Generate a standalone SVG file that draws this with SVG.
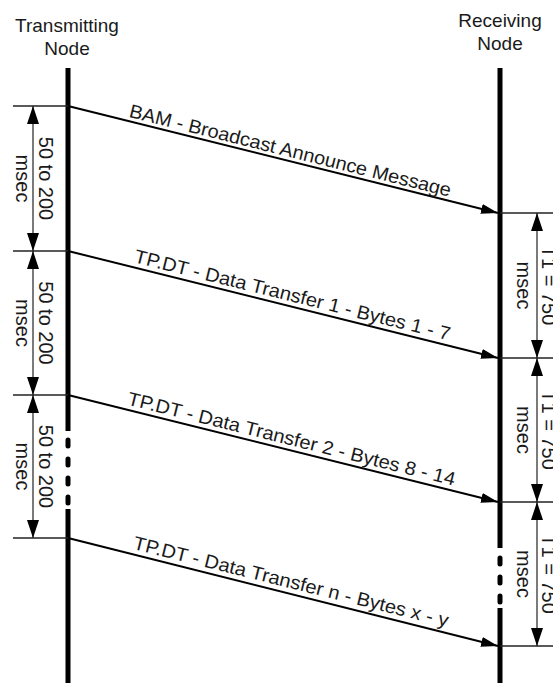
<svg xmlns="http://www.w3.org/2000/svg" width="553" height="683" viewBox="0 0 553 683">
  <style>
    text { font-family: "Liberation Sans", Arial, sans-serif; fill: #1a1a1a; }
    .hdr { font-size: 19px; text-anchor: middle; }
    .msg { font-size: 19px; }
    .dim { font-size: 20px; text-anchor: middle; }
    .life { stroke: #000; stroke-width: 5; fill: none; }
    .dash { stroke: #000; stroke-width: 5; fill: none; stroke-dasharray: 6 13; stroke-linecap: round; }
    .tick { stroke: #222; stroke-width: 1.6; fill: none; }
    .arrow { stroke: #000; stroke-width: 2; fill: none; marker-end: url(#msgHead); }
    .dimline { stroke: #222; stroke-width: 1.2; fill: none; marker-start: url(#dimHead); marker-end: url(#dimHead); }
  </style>
  <defs>
    <marker id="msgHead" markerUnits="userSpaceOnUse" markerWidth="18" markerHeight="12" refX="17" refY="5" orient="auto">
      <path d="M0,0 L17,5 L0,10 Z" fill="#000"/>
    </marker>
    <marker id="dimHead" markerUnits="userSpaceOnUse" markerWidth="19" markerHeight="13" refX="18" refY="6" orient="auto-start-reverse">
      <path d="M0,0 L18,6 L0,12 Z" fill="#000"/>
    </marker>
  </defs>
  <rect width="553" height="683" fill="#fff"/>

  <g id="transmitting-node">
    <text class="hdr" x="67" y="32">Transmitting</text>
    <text class="hdr" x="67" y="55">Node</text>
    <line class="life" x1="68" y1="68" x2="68" y2="431"/>
    <line class="dash" x1="68" y1="440" x2="68" y2="504"/>
    <line class="life" x1="68" y1="509" x2="68" y2="683"/>
  </g>

  <g id="receiving-node">
    <text class="hdr" x="500" y="27">Receiving</text>
    <text class="hdr" x="500" y="50">Node</text>
    <line class="life" x1="500" y1="68" x2="500" y2="548"/>
    <line class="dash" x1="500" y1="558" x2="500" y2="602"/>
    <line class="life" x1="500" y1="608" x2="500" y2="683"/>
  </g>

  <g id="timing-transmit">
    <line class="tick" x1="13" y1="106" x2="68" y2="106"/>
    <line class="tick" x1="13" y1="251" x2="68" y2="251"/>
    <line class="tick" x1="13" y1="395" x2="68" y2="395"/>
    <line class="tick" x1="13" y1="538" x2="68" y2="538"/>
    <line class="dimline" x1="33" y1="106" x2="33" y2="251"/>
    <line class="dimline" x1="33" y1="251" x2="33" y2="395"/>
    <line class="dimline" x1="33" y1="395" x2="33" y2="538"/>
    <text class="dim" transform="translate(39,178.5) rotate(90)">50 to 200</text>
    <text class="dim" transform="translate(16,178.5) rotate(90)">msec</text>
    <text class="dim" transform="translate(39,323) rotate(90)">50 to 200</text>
    <text class="dim" transform="translate(16,323) rotate(90)">msec</text>
    <text class="dim" transform="translate(39,466.5) rotate(90)">50 to 200</text>
    <text class="dim" transform="translate(16,466.5) rotate(90)">msec</text>
  </g>

  <g id="timing-receive">
    <line class="tick" x1="500" y1="213" x2="553" y2="213"/>
    <line class="tick" x1="500" y1="358" x2="553" y2="358"/>
    <line class="tick" x1="500" y1="502" x2="553" y2="502"/>
    <line class="tick" x1="500" y1="646" x2="553" y2="646"/>
    <line class="dimline" x1="537" y1="213" x2="537" y2="358"/>
    <line class="dimline" x1="537" y1="358" x2="537" y2="502"/>
    <line class="dimline" x1="537" y1="502" x2="537" y2="646"/>
    <text class="dim" transform="translate(542,285.5) rotate(90)">T1 = 750</text>
    <text class="dim" transform="translate(517,285.5) rotate(90)">msec</text>
    <text class="dim" transform="translate(542,430) rotate(90)">T1 = 750</text>
    <text class="dim" transform="translate(517,430) rotate(90)">msec</text>
    <text class="dim" transform="translate(542,574) rotate(90)">T1 = 750</text>
    <text class="dim" transform="translate(517,574) rotate(90)">msec</text>
  </g>

  <g id="connectors">
    <g id="msg-bam">
      <line class="arrow" x1="68" y1="106" x2="498" y2="213"/>
      <text class="msg" transform="translate(68,106) rotate(13.97)" x="61" y="-4" textLength="331" lengthAdjust="spacingAndGlyphs">BAM - Broadcast Announce Message</text>
    </g>
    <g id="msg-dt1">
      <line class="arrow" x1="68" y1="251" x2="498" y2="358"/>
      <text class="msg" transform="translate(68,251) rotate(13.97)" x="66" y="-5" textLength="325" lengthAdjust="spacingAndGlyphs">TP.DT - Data Transfer 1 - Bytes 1 - 7</text>
    </g>
    <g id="msg-dt2">
      <line class="arrow" x1="68" y1="395" x2="498" y2="502"/>
      <text class="msg" transform="translate(68,395) rotate(13.97)" x="59" y="-5" textLength="337" lengthAdjust="spacingAndGlyphs">TP.DT - Data Transfer 2 - Bytes 8 - 14</text>
    </g>
    <g id="msg-dtn">
      <line class="arrow" x1="68" y1="538" x2="498" y2="646"/>
      <text class="msg" transform="translate(68,538) rotate(13.97)" x="65" y="-5" textLength="324" lengthAdjust="spacingAndGlyphs">TP.DT - Data Transfer n - Bytes x - y</text>
    </g>
  </g>
</svg>
